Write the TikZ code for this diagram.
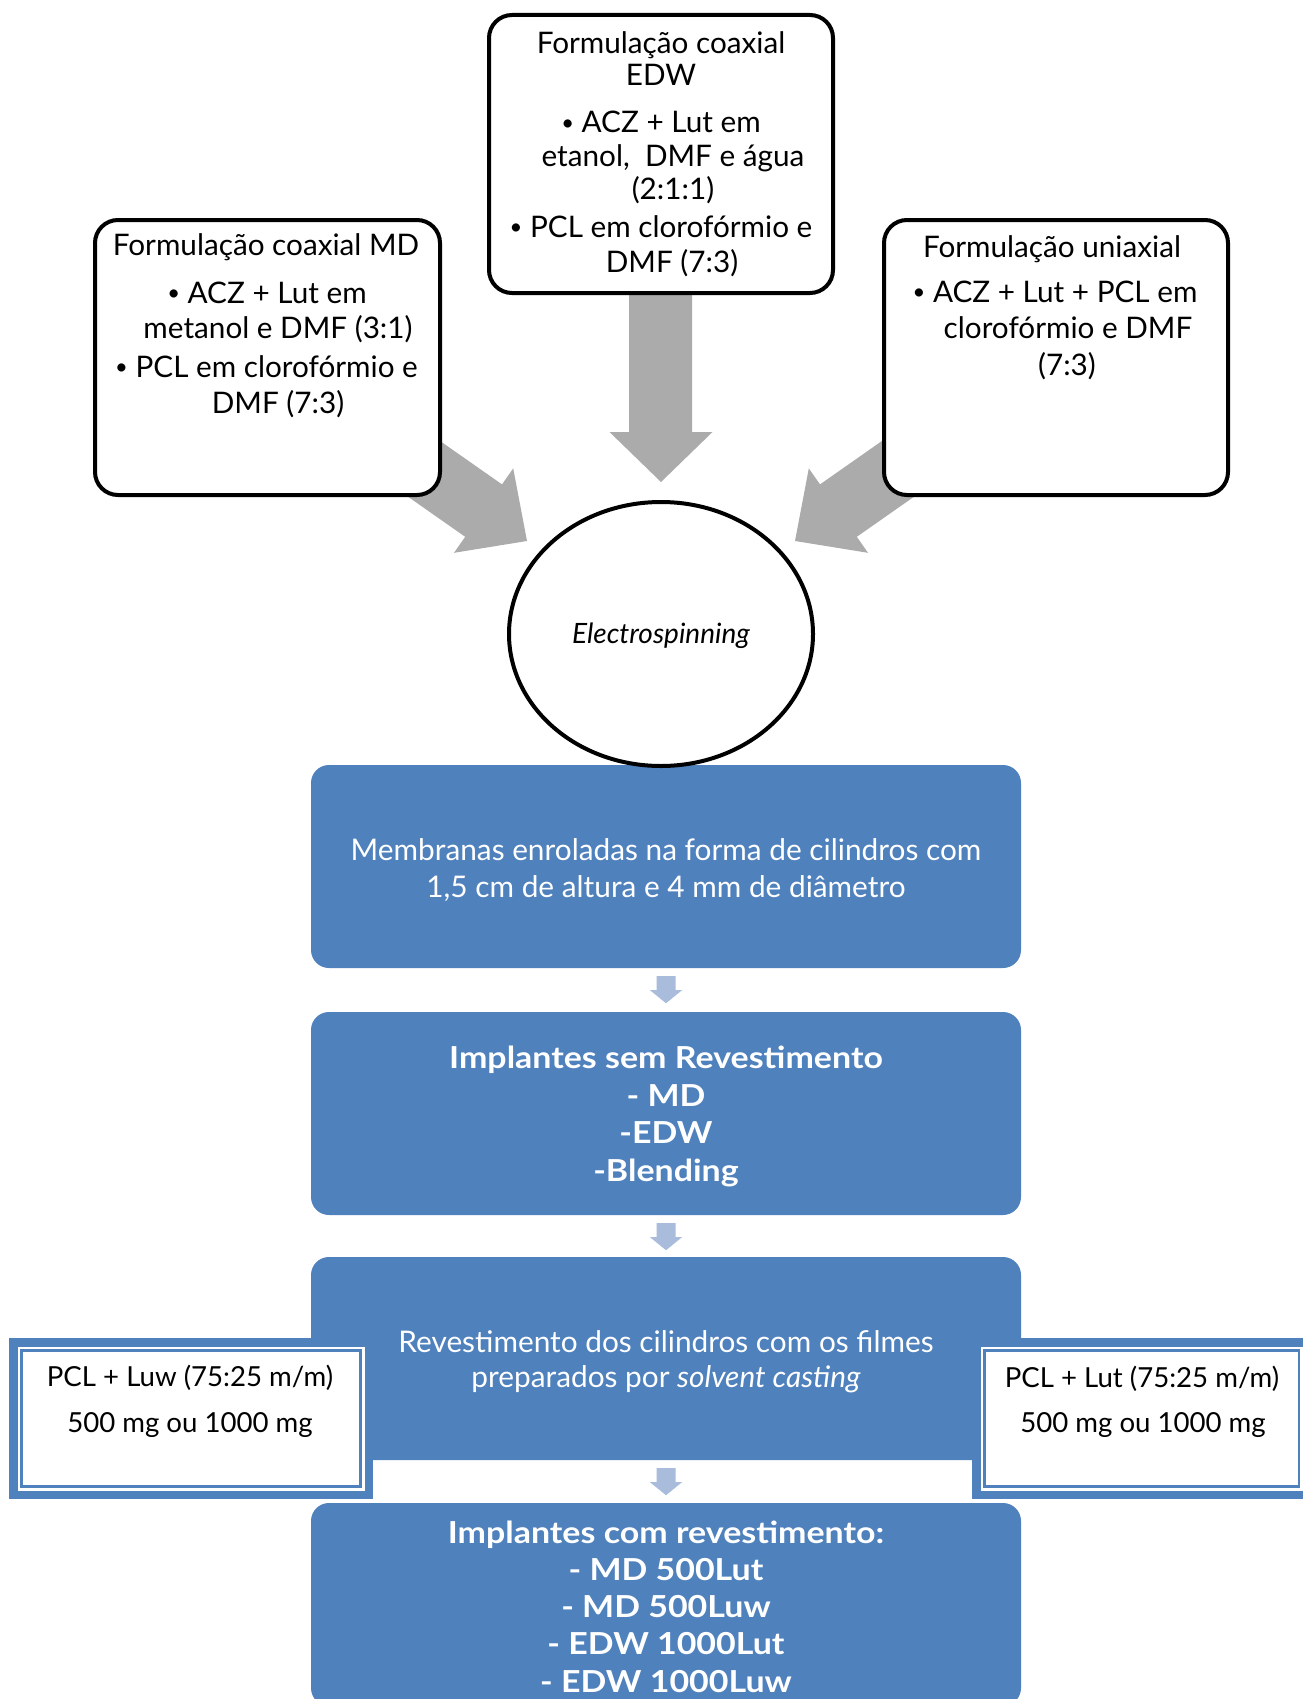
\documentclass[tikz,border=0pt]{standalone}
\usepackage{fontspec}
\setmainfont{Lato}
\newfontfamily\widelato{Lato}[FakeStretch=1.12]
\usetikzlibrary{shapes.geometric,calc}
\definecolor{accblue}{HTML}{4F81BD}
\definecolor{lightarrow}{HTML}{A9BCDB}
\definecolor{grayarrow}{HTML}{ABABAB}
\newcommand{\bul}{\raisebox{2.5pt}{\fontsize{22}{22}\selectfont •}}
\tikzset{
  formbox/.style={draw=black, fill=white, line width=4pt, rounded corners=23pt, inner sep=0pt},
  bluebox/.style={fill=accblue, rounded corners=18pt, inner sep=0pt, minimum width=710pt, minimum height=203pt},
  btxt/.style={inner sep=0pt, anchor=base, text=black, font=\fontsize{29.7}{34}\selectfont},
  wtxt/.style={inner sep=0pt, anchor=base, text=white, font=\fontsize{29.8}{34}\selectfont},
  wbold/.style={inner sep=0pt, anchor=base, text=white, font=\widelato\fontsize{30.3}{34}\selectfont\bfseries},
  sidetxt/.style={inner sep=0pt, anchor=base, text=black, font=\fontsize{27.6}{34}\selectfont},
  bigarrow/.style={fill=grayarrow, draw=none},
  smallarrow/.style={fill=lightarrow, draw=none},
}
\newcommand{\flowarrow}[1]{%
  \fill[smallarrow] ($(#1.south)+(-9.5,8)$) -- ($(#1.south)+(9.5,8)$) -- ($(#1.south)+(9.5,22)$)
    -- ($(#1.south)+(16,22)$) -- ($(#1.south)+(0,35)$) -- ($(#1.south)+(-16,22)$)
    -- ($(#1.south)+(-9.5,22)$) -- cycle;}
\begin{document}
\begin{tikzpicture}[x=1pt,y=-1pt]
\useasboundingbox (0,0) rectangle (1302,1699);
\fill[white] (0,0) rectangle (1302,1699);

% big gray arrows (under the boxes)
\fill[bigarrow] (629,250) -- (692,250) -- (692,432) -- (712.5,432) -- (661,482) -- (609.5,432) -- (629,432) -- cycle;
\fill[bigarrow] (301.4,422.0) -- (338.2,369.6) -- (502.0,484.4) -- (513.2,468.4) -- (527,541) -- (454.0,552.8) -- (465.2,536.8) -- cycle;
\fill[bigarrow] (1020.6,422.0) -- (983.8,369.6) -- (820.0,484.4) -- (808.8,468.4) -- (795,541) -- (868.0,552.8) -- (856.8,536.8) -- cycle;

% formulation boxes
\node[formbox, minimum width=344pt, minimum height=278pt] (edw) at (661,154) {};
\node[formbox, minimum width=345pt, minimum height=275pt] (md) at (267.5,357.5) {};
\node[formbox, minimum width=344pt, minimum height=275pt] (uni) at (1056,357.5) {};

% texts top box
\node[btxt] (e1) at (661,54) {Formulação coaxial};
\node[btxt] (e2) at (661,86) {EDW};
\node[btxt] (e3) at (661,133) {\bul\ ACZ + Lut em};
\node[btxt] (e4) at (673,167) {etanol,\ \ DMF e água};
\node[btxt] (e5) at (673,200) {(2:1:1)};
\node[btxt] (e6) at (661,237) {\bul\ PCL em clorofórmio e};
\node[btxt] (e7) at (672,272) {DMF (7:3)};

% texts left box
\node[btxt] (m1) at (266,255) {Formulação coaxial MD};
\node[btxt] (m2) at (267,303) {\bul\ ACZ + Lut em};
\node[btxt] (m3) at (278,338) {metanol e DMF (3:1)};
\node[btxt] (m4) at (266.5,377) {\bul\ PCL em clorofórmio e};
\node[btxt] (m5) at (278,413) {DMF (7:3)};

% texts right box
\node[btxt] (u1) at (1052,257) {Formulação uniaxial};
\node[btxt] (u2) at (1055,302) {\bul\ ACZ + Lut + PCL em};
\node[btxt] (u3) at (1068,338) {clorofórmio e DMF};
\node[btxt] (u4) at (1067,375) {(7:3)};

% blue flow boxes
\node[bluebox] (b1) at (666,866.5) {};
\node[bluebox] (b2) at (666,1113.5) {};
\node[bluebox] (b3) at (666,1358.5) {};
\node[bluebox] (b4) at (666,1604.5) {};

% electrospinning ellipse
\node[ellipse, draw=black, fill=white, line width=4pt, minimum width=304pt, minimum height=264pt, inner sep=0pt] (es) at (661,634) {};
\node[btxt, font=\fontsize{28}{32}\selectfont\itshape] (est) at (661,643) {Electrospinning};

% small arrows
\flowarrow{b1}
\flowarrow{b2}
\flowarrow{b3}

% blue box texts
\node[wtxt] (t11) at (666,860) {Membranas enroladas na forma de cilindros com};
\node[wtxt] (t12) at (666,897) {1,5 cm de altura e 4 mm de diâmetro};

\node[wbold] (t21) at (666,1068) {Implantes sem Revestimento};
\node[wbold] (t22) at (666,1106) {- MD};
\node[wbold] (t23) at (666,1143) {-EDW};
\node[wbold] (t24) at (666,1181) {-Blending};

\node[wtxt] (t31) at (666,1352) {Revestimento dos cilindros com os filmes};
\node[wtxt] (t32) at (666,1387) {preparados por \textit{solvent casting}};

\node[wbold] (t41) at (666,1543) {Implantes com revestimento:};
\node[wbold] (t42) at (666,1580) {- MD 500Lut};
\node[wbold] (t43) at (666,1617) {- MD 500Luw};
\node[wbold] (t44) at (666,1654) {- EDW 1000Lut};
\node[wbold] (t45) at (666,1692) {- EDW 1000Luw};

% side boxes
\filldraw[fill=white, draw=accblue, line width=8.5pt] (13.25,1342.25) rectangle (368.75,1494.75);
\draw[accblue, line width=2.5pt] (21.5,1350.5) rectangle (360.5,1486.5);
\node[sidetxt] (l1) at (190,1386) {PCL + Luw (75:25 m/m)};
\node[sidetxt] (l2) at (190,1432) {500 mg ou 1000 mg};

\filldraw[fill=white, draw=accblue, line width=8.5pt] (976.25,1342.25) rectangle (1315,1494.75);
\draw[accblue, line width=2.5pt] (984.5,1350.5) rectangle (1299,1486.5);
\node[sidetxt] (r1) at (1142,1387) {PCL + Lut (75:25 m/m)};
\node[sidetxt] (r2) at (1143,1432) {500 mg ou 1000 mg};
\end{tikzpicture}
\end{document}
